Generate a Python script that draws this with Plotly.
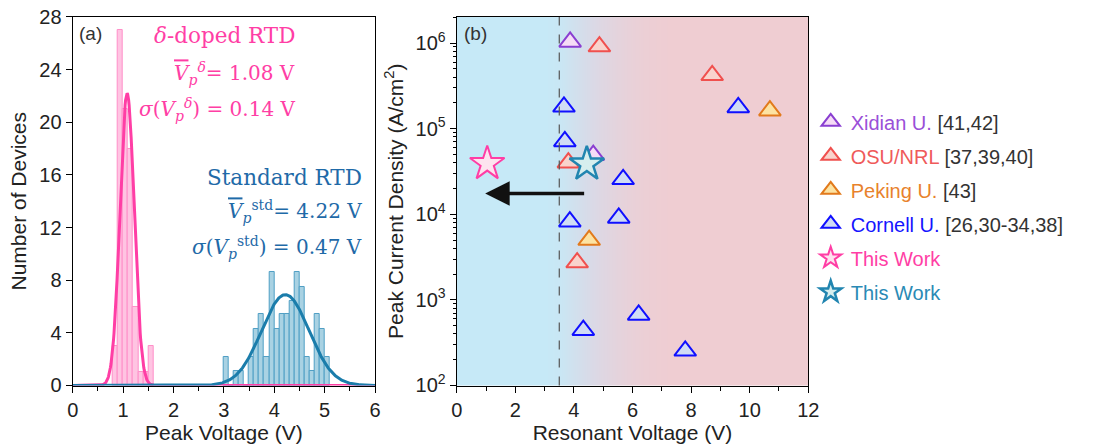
import numpy as np
import plotly.graph_objects as go

# ---------------- Panel (a) data: histograms of peak voltage ----------------
delta_bin_centers = [0.85, 0.95, 1.05, 1.15, 1.25, 1.35, 1.45, 1.55]
delta_counts = [3, 27, 21, 18, 6, 1, 1, 3]
std_bin_centers = [3.05, 3.15, 3.25, 3.35, 3.45, 3.55, 3.65, 3.75, 3.85, 3.95,
                   4.05, 4.15, 4.25, 4.35, 4.45, 4.55, 4.65, 4.75, 4.85, 4.95, 5.05]
std_counts = [2.15, 0, 1.07, 1.07, 0, 2.15, 4.3, 5.4, 2.15, 8.6,
              4.3, 5.4, 5.4, 6.45, 8.6, 7.5, 2.15, 1.07, 5.4, 4.3, 2.15]
bin_width = 0.1

delta_mean, delta_sigma, delta_peak = 1.08, 0.14, 22.2
std_mean, std_sigma, std_peak = 4.22, 0.47, 6.9

# ---------------- Panel (b) data: benchmark ----------------
xidian_v = [3.87, 4.66]
xidian_j = [1.03e6, 4.9e4]
osu_v = [4.87, 8.72, 3.81, 4.11]
osu_j = [9.1e5, 4.2e5, 4.0e4, 2.73e3]
peking_v = [10.69, 4.52]
peking_j = [1.62e5, 5.0e3]
cornell_v = [9.61, 3.66, 3.69, 5.68, 5.53, 3.86, 6.21, 4.32, 7.80]
cornell_j = [1.77e5, 1.8e5, 7.1e4, 2.56e4, 9.06e3, 8.2e3, 668, 443, 254]
this_delta_v = [1.04]
this_delta_j = [3.9e4]
this_std_v = [4.44]
this_std_j = [3.85e4]
arrow_start_v, arrow_end_v, arrow_j = 4.40, 0.97, 1.75e4
threshold_v = 3.5

PINK = "#ff3ea5"
BLUE = "#1b7dab"
TXT = "#222222"
SANS = "Liberation Sans, Arial, sans-serif"
SERIF = "DejaVu Serif, serif"

fig = go.Figure()

# background gradient (panel b) as a smooth heatmap behind the markers
grad_x = [0, 3.0, 3.5, 4.0, 4.5, 5.0, 5.5, 6.0, 6.5, 7.0, 7.5, 12]
grad_t = [0, 0, 0.07, 0.26, 0.44, 0.6, 0.74, 0.85, 0.93, 0.98, 1, 1]
fig.add_trace(go.Heatmap(x=grad_x, y=[1e2, 10 ** 6.304], z=[grad_t, grad_t],
                         colorscale=[[0, "rgb(198,233,247)"], [0.5, "rgb(219,217,230)"], [1, "rgb(239,205,210)"]],
                         zmin=0, zmax=1, zsmooth="best", showscale=False, hoverinfo="skip",
                         xaxis="x2", yaxis="y2", showlegend=False))

# histogram bars
fig.add_trace(go.Bar(x=delta_bin_centers, y=delta_counts, width=bin_width,
                     marker=dict(color="#ffc4e2", line=dict(color="#ff8fc8", width=1)),
                     showlegend=False, xaxis="x", yaxis="y"))
fig.add_trace(go.Bar(x=std_bin_centers, y=std_counts, width=bin_width,
                     marker=dict(color="#a9d2e3", line=dict(color="#4f9ec4", width=1)),
                     showlegend=False, xaxis="x", yaxis="y"))

# gaussian fit curves
xf = np.linspace(0, 6, 601)
fig.add_trace(go.Scatter(x=xf, y=delta_peak * np.exp(-(xf - delta_mean) ** 2 / (2 * delta_sigma ** 2)),
                         mode="lines", line=dict(color=PINK, width=3), showlegend=False,
                         xaxis="x", yaxis="y"))
fig.add_trace(go.Scatter(x=xf, y=std_peak * np.exp(-(xf - std_mean) ** 2 / (2 * std_sigma ** 2)),
                         mode="lines", line=dict(color=BLUE, width=3), showlegend=False,
                         xaxis="x", yaxis="y"))

# benchmark markers
def tri(name, v, j, edge, fill, textcolor, ref, grp):
    fig.add_trace(go.Scatter(
        x=v, y=j, mode="markers", xaxis="x2", yaxis="y2",
        marker=dict(symbol="triangle-up", size=19, color=fill, line=dict(color=edge, width=2)),
        name=f'<span style="color:{textcolor}">{name}</span> {ref}', legendgroup=grp))

tri("Xidian U.", xidian_v, xidian_j, "#8a3fd1", "#f6dcf6", "#9a4fd8", "[41,42]", "g1")
tri("OSU/NRL", osu_v, osu_j, "#f0504e", "#f9d3cc", "#ef5a5a", "[37,39,40]", "g2")
tri("Peking U.", peking_v, peking_j, "#e27a1c", "#fde3a2", "#e8822c", "[43]", "g3")
tri("Cornell U.", cornell_v, cornell_j, "#1010ff", "#d0dcf5", "#1515ff", "[26,30-34,38]", "g4")

fig.add_trace(go.Scatter(x=this_delta_v, y=this_delta_j, mode="markers", xaxis="x2", yaxis="y2",
                         marker=dict(symbol="star", size=26, color="#fde3ef", line=dict(color=PINK, width=2)),
                         name=f'<span style="color:{PINK}">This Work</span>', legendgroup="g5"))
fig.add_trace(go.Scatter(x=this_std_v, y=this_std_j, mode="markers", xaxis="x2", yaxis="y2",
                         marker=dict(symbol="star", size=26, color="#d6eeee", line=dict(color="#2185b0", width=2.5)),
                         name='<span style="color:#2a8ab5">This Work</span>', legendgroup="g6"))

shapes = [dict(type="line", xref="x2", yref="y2 domain", x0=threshold_v, x1=threshold_v, y0=0, y1=1,
               line=dict(color="#555555", width=1.2, dash="dash"), layer="above")]
fig.update_layout(shapes=shapes)

# annotations
ann = []
def txt(x, y, s, color, size=21.5, font=SERIF):
    ann.append(dict(x=x, y=y, xref="x", yref="y", text=s, showarrow=False, xanchor="right",
                    yanchor="middle", font=dict(family=font, size=size, color=color)))

OV = '<span style="text-decoration:overline"><i>V</i></span>'
txt(4.45, 26.6, "<i>δ</i>-doped RTD", PINK)
txt(4.45, 23.7, OV + '<sub><i>p</i></sub><sup><i>δ</i></sup>= 1.08 V', PINK, size=20)
txt(4.45, 21.0, '<i>σ</i>(<i>V</i><sub><i>p</i></sub><sup><i>δ</i></sup>) = 0.14 V', PINK, size=20)
txt(5.78, 15.8, "Standard RTD", "#1f6aa8")
txt(5.78, 13.2, OV + '<sub><i>p</i></sub><sup>std</sup>= 4.22 V', "#1f6aa8", size=20)
txt(5.78, 10.5, '<i>σ</i>(<i>V</i><sub><i>p</i></sub><sup>std</sup>) = 0.47 V', "#1f6aa8", size=20)

ann.append(dict(x=0.015, y=0.99, xref="x domain", yref="y domain", text="(a)", showarrow=False,
                xanchor="left", yanchor="top", font=dict(family=SANS, size=19, color="#333")))
ann.append(dict(x=0.015, y=0.99, xref="x2 domain", yref="y2 domain", text="(b)", showarrow=False,
                xanchor="left", yanchor="top", font=dict(family=SANS, size=19, color="#333")))
ann.append(dict(x=arrow_end_v, y=np.log10(arrow_j), ax=arrow_start_v, ay=np.log10(arrow_j),
                xref="x2", yref="y2", axref="x2", ayref="y2", text="", showarrow=True,
                arrowhead=2, arrowsize=1.4, arrowwidth=3.5, arrowcolor="#111111",
                standoff=0, startstandoff=0))
fig.update_layout(annotations=ann)

axis_common = dict(showline=True, linecolor="black", linewidth=1.2, mirror=True,
                   ticks="outside", ticklen=6, tickwidth=1.2, tickcolor="black",
                   showgrid=False, zeroline=False, automargin=False,
                   tickfont=dict(family=SANS, size=20, color=TXT))

decades = [1e2, 1e3, 1e4, 1e5, 1e6]
minor_vals = [m * d for d in [1e2, 1e3, 1e4, 1e5, 1e6] for m in range(2, 10)]

fig.update_layout(
    width=1103, height=445,
    margin=dict(l=0, r=0, t=0, b=0, autoexpand=False),
    paper_bgcolor="white", plot_bgcolor="white",
    barmode="overlay", bargap=0,
    xaxis=dict(domain=[0.0659, 0.340], range=[0, 6], dtick=1, anchor="y",
               minor=dict(dtick=0.5, ticks="outside", ticklen=4, tickcolor="black"),
               title=dict(text="Peak Voltage (V)", font=dict(family=SANS, size=21, color=TXT), standoff=4),
               **axis_common),
    yaxis=dict(domain=[0.1337, 0.9618], range=[0, 28], dtick=4, anchor="x",
               title=dict(text="Number of Devices", font=dict(family=SANS, size=21, color=TXT), standoff=6),
               **axis_common),
    xaxis2=dict(domain=[0.4141, 0.7328], range=[0, 12], dtick=2, anchor="y2",
                minor=dict(dtick=1, ticks="outside", ticklen=4, tickcolor="black"),
                title=dict(text="Resonant Voltage (V)", font=dict(family=SANS, size=21, color=TXT), standoff=4),
                **axis_common),
    yaxis2=dict(domain=[0.1337, 0.9618], type="log", range=[2, 6.304], anchor="x2",
                tickmode="array", tickvals=decades,
                ticktext=["10<sup>2</sup>", "10<sup>3</sup>", "10<sup>4</sup>", "10<sup>5</sup>", "10<sup>6</sup>"],
                minor=dict(tickmode="array", tickvals=minor_vals, ticks="outside", ticklen=3, tickcolor="black"),
                title=dict(text="Peak Current Density (A/cm<sup>2</sup>)", font=dict(family=SANS, size=21, color=TXT), standoff=6),
                **axis_common),
    legend=dict(x=0.735, y=0.77, xanchor="left", yanchor="top", xref="paper", yref="paper",
                font=dict(family=SANS, size=20, color="#333333"),
                bgcolor="rgba(0,0,0,0)", tracegroupgap=5, itemsizing="trace"),
)

fig.write_html("out.html", config={"displayModeBar": False},
               post_script="document.body.style.margin='0px';document.body.style.overflow='hidden';")
